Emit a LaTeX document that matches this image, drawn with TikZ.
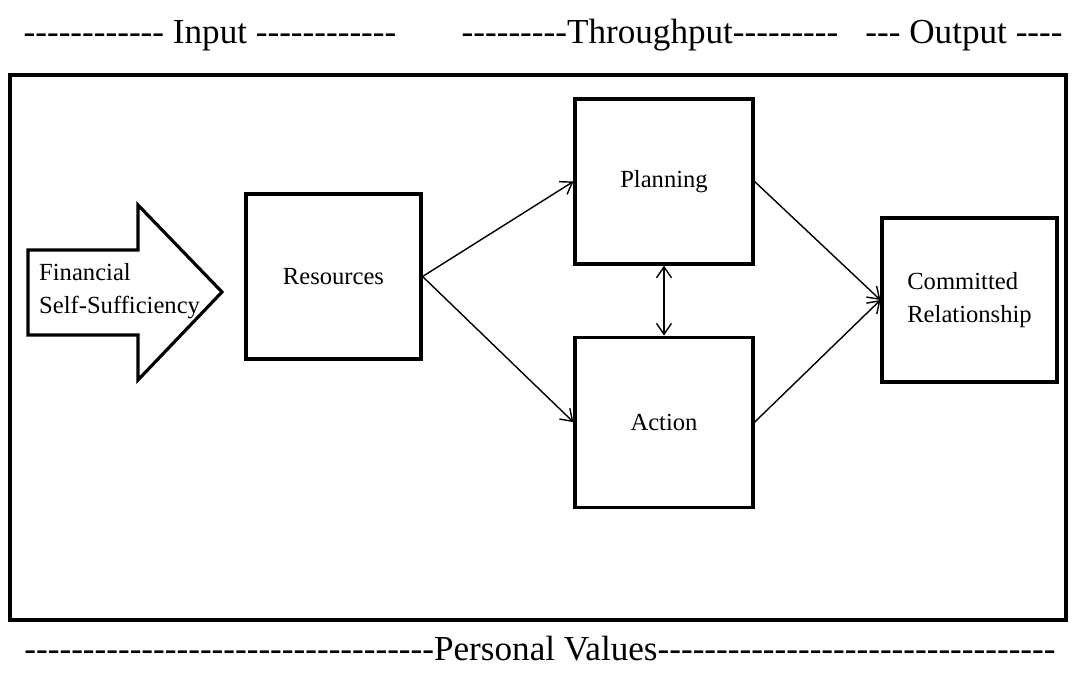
\documentclass[tikz,border=0pt]{standalone}
\usepackage{fontspec}
\setmainfont{Liberation Serif}[Ligatures=TeXOff]
\usetikzlibrary{arrows.meta,positioning}

\begin{document}
\begin{tikzpicture}[
  >={Straight Barb[length=2.2mm,width=3mm]},
  box/.style={draw, rectangle, line width=1.8pt, minimum width=3.5cm, minimum height=3.3cm, font=\fontsize{14}{18.5}\selectfont},
  link/.style={->, line width=0.8pt},
  band/.style={font=\fontsize{20}{24}\selectfont, anchor=base, inner sep=0pt}
]
\useasboundingbox (0,0) rectangle (21.54,13.44);

% Outer frame
\draw[line width=1.8pt] (0.2,1.04) rectangle (21.32,11.94);

% Stage headings
\node[band] (input) at (4.2,12.56) {------------ Input ------------};
\node[band] (through) at (13.0,12.56) {---------Throughput---------};
\node[band] (output) at (19.28,12.56) {--- Output ----};
\node[band] (values) at (10.8,0.24) {-----------------------------------Personal Values----------------------------------};

% Input block arrow
\draw[line width=1.8pt, line join=miter] (0.56,8.44) -- (2.76,8.44) -- (2.76,9.34) -- (4.44,7.6)
  -- (2.76,5.84) -- (2.76,6.74) -- (0.56,6.74) -- cycle;
\node[anchor=west, align=left, font=\fontsize{14}{18.5}\selectfont] (fss) at (0.66,7.62) {Financial\\Self-Sufficiency};

% Boxes
\node[box] (res) at (6.67,7.91) {Resources};
\node[box, minimum width=3.56cm] (plan) at (13.28,9.81) {Planning};
\node[box, minimum width=3.56cm, minimum height=3.4cm, below=1.4cm of plan] (act) {Action};
\node[box, minimum height=3.28cm, align=left] (com) at (19.39,7.44) {Committed\\Relationship};

% Connections
\draw[link] (res.east) -- (plan.west);
\draw[link] (res.east) -- (act.west);
\draw[link] (plan.east) -- (com.west);
\draw[link] (act.east) -- (com.west);
\draw[link, <->] (plan.south) -- (act.north);

\end{tikzpicture}
\end{document}
